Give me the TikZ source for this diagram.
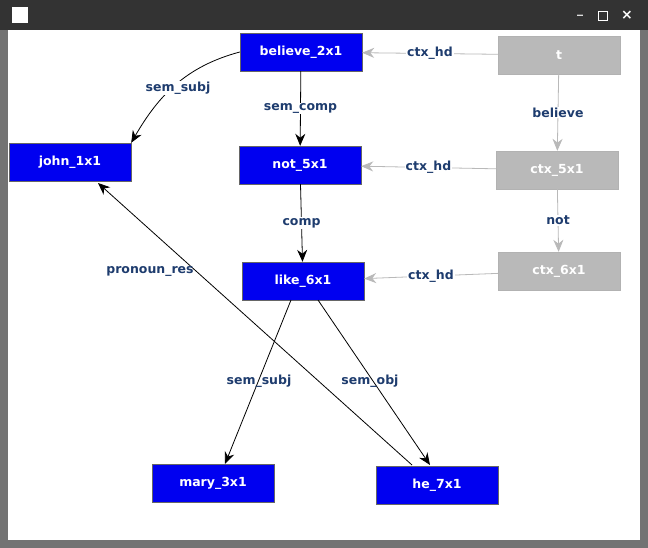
\documentclass[tikz,border=0pt]{standalone}
\usepackage{fontspec}
\setmainfont{DejaVu Sans}
\usetikzlibrary{arrows.meta}
\definecolor{nb}{RGB}{0,0,240}
\definecolor{ng}{RGB}{185,185,185}
\definecolor{lb}{RGB}{30,60,110}
\begin{document}
\begin{tikzpicture}[x=1pt,y=-1pt,
  bn/.style={draw=black!60,fill=nb,text=white,font=\bfseries\fontsize{12.5}{14}\selectfont,minimum width=122pt,minimum height=38pt,inner sep=0pt},
  gn/.style={draw=black!30,fill=ng,text=white,font=\bfseries\fontsize{12.5}{14}\selectfont,minimum width=122pt,minimum height=38pt,inner sep=0pt},
  e/.style={draw=black,line width=0.8pt,-{Stealth[length=12pt,width=10pt]}},
  ge/.style={draw=ng,line width=0.8pt,-{Stealth[length=12pt,width=10pt]}},
  lab/.style={text=lb,font=\bfseries\fontsize{12.5}{14}\selectfont,fill=white,inner sep=1pt}]
\useasboundingbox (0,0) rectangle (648,548);
\fill[black!55] (0,0) rectangle (648,548);
\fill[black!80] (0,0) rectangle (648,30);
\fill[white] (8,30) rectangle (640,540);
\node[fill=white,minimum size=16pt,inner sep=0pt] (ic) at (20,15) {};
\node[text=white,font=\bfseries\fontsize{12}{12}\selectfont] (b1) at (580,15) {\_};
\node[draw=white,thick,minimum size=9pt,inner sep=0pt] (b2) at (603,16) {};
\node[text=white,font=\bfseries\fontsize{14}{14}\selectfont] (b3) at (627,15) {×};
\node[bn] (believe) at (301,52) {believe\_2x1};
\node[gn] (t) at (559,55) {t};
\node[bn] (john) at (70,162) {john\_1x1};
\node[bn] (not) at (300,165) {not\_5x1};
\node[gn] (c5) at (557,170) {ctx\_5x1};
\node[bn] (like) at (303,281) {like\_6x1};
\node[gn] (c6) at (559,271) {ctx\_6x1};
\node[bn] (mary) at (213,483) {mary\_3x1};
\node[bn] (he) at (437,485) {he\_7x1};
\draw[e] (believe.west) to[out=195,in=60] (john.north east);
\node[lab] (lss) at (178,88) {sem\_subj};
\draw[e] (believe) -- node[lab] {sem\_comp} (not);
\draw[e] (not) -- node[lab] {comp} (like);
\draw[ge] (t) -- node[lab] {ctx\_hd} (believe);
\draw[ge] (t) -- node[lab] {believe} (c5);
\draw[ge] (c5) -- node[lab] {not} (c6);
\draw[ge] (c5) -- node[lab] {ctx\_hd} (not);
\draw[ge] (c6) -- node[lab] {ctx\_hd} (like);
\coordinate (l1) at (291,300); \coordinate (m1) at (225,464);
\coordinate (l2) at (318,300); \coordinate (h1) at (430,465);
\coordinate (h2) at (412,465); \coordinate (j1) at (98,183);
\draw[e] (l1) -- (m1);
\draw[e] (l2) -- (h1);
\draw[e] (h2) -- (j1);
\node[lab,fill=none] (ls) at (259,381) {sem\_subj};
\node[lab,fill=none] (lo) at (370,381) {sem\_obj};
\node[lab,fill=none] (lp) at (150,271) {pronoun\_res};
\end{tikzpicture}
\end{document}
